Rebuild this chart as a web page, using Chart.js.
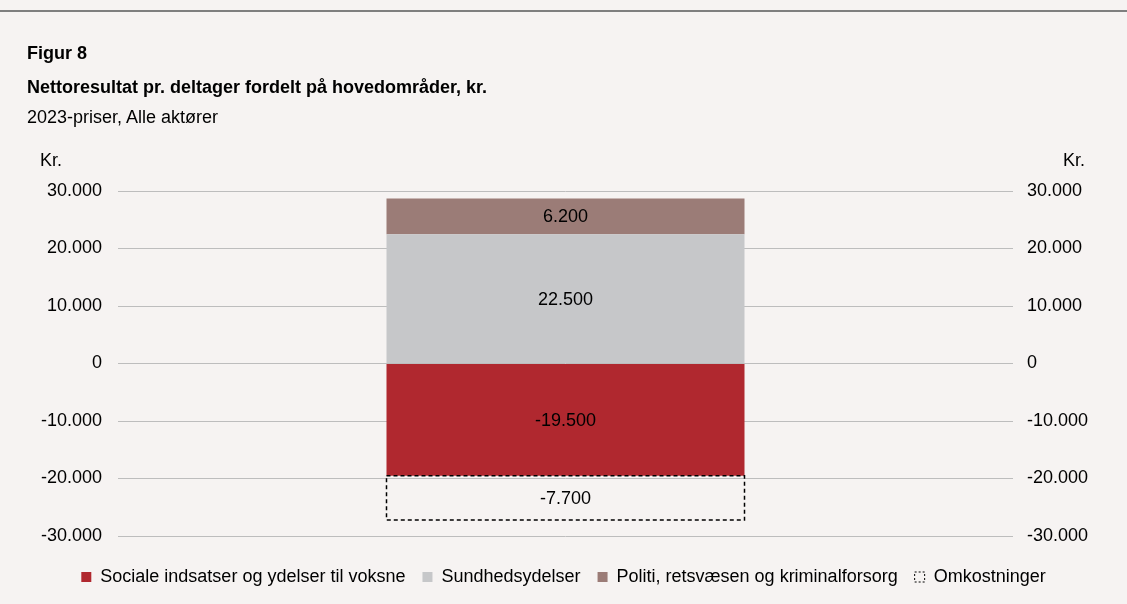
<!DOCTYPE html>
<html lang="da">
<head>
<meta charset="utf-8">
<script src="https://cdn.jsdelivr.net/npm/chart.js@4/dist/chart.umd.min.js"></script>
<style>
  body { margin: 0; background: #F6F3F2; font-family: "Liberation Sans", Arial, sans-serif; color: #000; }
  .tekst { position: absolute; font-size: 18px; line-height: 20px; white-space: nowrap; }
  #linje { position: absolute; left: 0; top: 10px; width: 1127px; height: 2px; background: #7f7f7f; }
  #grafik { position: absolute; left: 0; top: 0; }
</style>
</head>
<body>
<div id="linje"></div>
<canvas id="grafik" width="1127" height="604"></canvas>
<div class="tekst" style="left:27px;top:43px;font-weight:bold">Figur 8</div>
<div class="tekst" style="left:27px;top:77px;font-weight:bold">Nettoresultat pr. deltager fordelt på hovedområder, kr.</div>
<div class="tekst" style="left:27px;top:107px">2023-priser, Alle aktører</div>
<div class="tekst" style="left:40px;top:150px">Kr.</div>
<div class="tekst" style="right:42px;top:150px">Kr.</div>
<script>
// data
var kategorier = ['Alle aktører'];
var serieNavne = ['Sociale indsatser og ydelser til voksne', 'Sundhedsydelser', 'Politi, retsvæsen og kriminalforsorg', 'Omkostninger'];
var sociale = [-19500];
var sundhed = [22500];
var politi = [6200];
var omkostninger = [-7700];
var yMin = -30000;
var yMax = 30000;
var yTrin = 10000;

var farver = ['#B0282F', '#C6C7C9', '#9B7C77', 'rgba(0,0,0,0)'];

// tal med punktum som tusindtalsseparator
function formater(v) {
  var s = Math.abs(v).toString().replace(/\B(?=(\d{3})+(?!\d))/g, '.');
  return (v < 0 ? '-' : '') + s;
}

Chart.defaults.font.family = '"Liberation Sans", Arial, sans-serif';
Chart.defaults.font.size = 18;
Chart.defaults.color = '#000';

// stiplet ramme om omkostninger
var stipletRamme = {
  id: 'stipletRamme',
  afterDatasetsDraw(chart) {
    const ctx = chart.ctx;
    const meta = chart.getDatasetMeta(3);
    meta.data.forEach((bar) => {
      const p = bar.getProps(['x', 'y', 'base', 'width'], true);
      ctx.save();
      ctx.setLineDash([4, 3]);
      ctx.lineWidth = 1.5;
      ctx.strokeStyle = '#000';
      ctx.strokeRect(p.x - p.width / 2, Math.min(p.y, p.base), p.width, Math.abs(p.base - p.y));
      ctx.restore();
    });
  }
};

// værdier midt i hver søjle
var vaerdiTekster = {
  id: 'vaerdiTekster',
  afterDatasetsDraw(chart) {
    const ctx = chart.ctx;
    ctx.save();
    ctx.font = '18px "Liberation Sans", Arial, sans-serif';
    ctx.fillStyle = '#000';
    ctx.textAlign = 'center';
    ctx.textBaseline = 'middle';
    chart.data.datasets.forEach((ds, i) => {
      chart.getDatasetMeta(i).data.forEach((bar, j) => {
        const p = bar.getProps(['x', 'y', 'base'], true);
        ctx.fillText(formater(ds.data[j]), p.x, (p.y + p.base) / 2 + 1);
      });
    });
    ctx.restore();
  }
};

var ctx = document.getElementById('grafik');

var grafik = new Chart(ctx, {
  type: 'bar',
  data: {
    labels: kategorier,
    datasets: [
      { label: serieNavne[0], data: sociale, backgroundColor: farver[0] },
      { label: serieNavne[1], data: sundhed, backgroundColor: farver[1] },
      { label: serieNavne[2], data: politi, backgroundColor: farver[2] },
      { label: serieNavne[3], data: omkostninger, backgroundColor: farver[3] }
    ]
  },
  options: {
    responsive: false,
    animation: false,
    devicePixelRatio: 1,
    barPercentage: 0.4,
    categoryPercentage: 1,
    layout: { padding: { top: 191, left: 0, right: 0, bottom: 8 } },
    plugins: {
      tooltip: { enabled: false },
      legend: {
        position: 'bottom',
        labels: {
          boxWidth: 10,
          boxHeight: 10,
          padding: 17,
          color: '#000',
          font: { size: 18 },
          generateLabels(chart) {
            return chart.data.datasets.map((ds, i) => {
              if (i === 3) {
                return { text: ds.label, fillStyle: 'rgba(0,0,0,0)', strokeStyle: '#000', lineWidth: 1, lineDash: [2, 2], datasetIndex: i };
              }
              return { text: ds.label, fillStyle: ds.backgroundColor, strokeStyle: ds.backgroundColor, lineWidth: 0, datasetIndex: i };
            });
          }
        }
      }
    },
    scales: {
      x: {
        stacked: true,
        grid: { display: false },
        border: { display: false },
        ticks: { display: false },
        afterFit(scale) { scale.height = 15; }
      },
      y: {
        stacked: true,
        position: 'left',
        min: yMin,
        max: yMax,
        grid: { color: '#BDBDBD', lineWidth: 1, drawTicks: false },
        border: { display: false },
        ticks: { stepSize: yTrin, padding: 16, color: '#000', callback: (v) => formater(v) },
        afterFit(scale) { scale.width = 118; }
      },
      y2: {
        position: 'right',
        min: yMin,
        max: yMax,
        grid: { display: false, drawTicks: false },
        border: { display: false },
        ticks: { stepSize: yTrin, padding: 14, color: '#000', callback: (v) => formater(v) },
        afterFit(scale) { scale.width = 114; }
      }
    }
  },
  plugins: [stipletRamme, vaerdiTekster]
});
</script>
</body>
</html>
